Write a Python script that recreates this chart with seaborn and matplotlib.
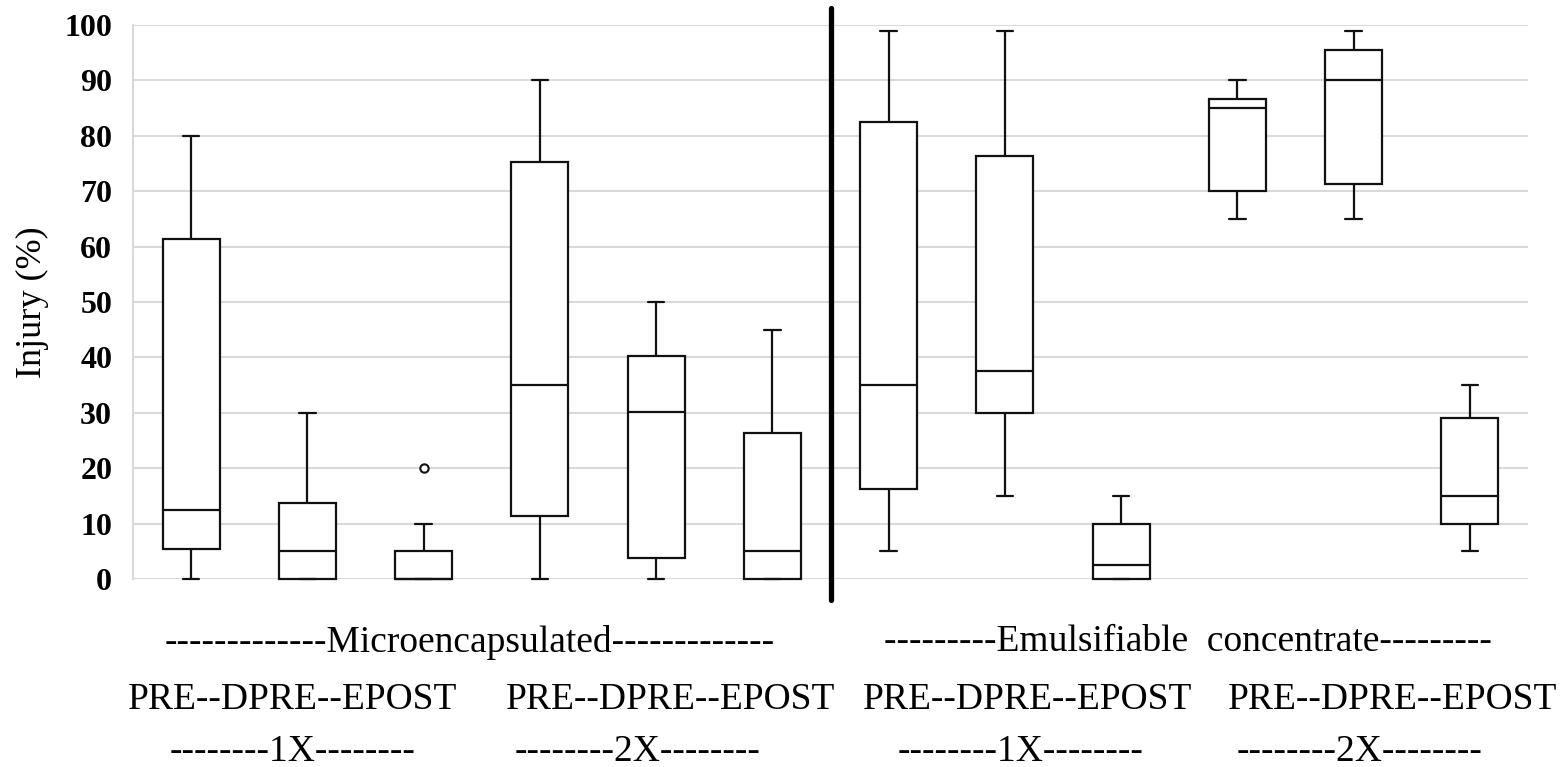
import matplotlib
matplotlib.use("Agg")
import matplotlib.pyplot as plt
import seaborn as sns
import pandas as pd
from matplotlib.ticker import MultipleLocator

# ---- data ----
groups = ["ME-1X-PRE", "ME-1X-DPRE", "ME-1X-EPOST",
          "ME-2X-PRE", "ME-2X-DPRE", "ME-2X-EPOST",
          "EC-1X-PRE", "EC-1X-DPRE", "EC-1X-EPOST",
          "EC-2X-PRE", "EC-2X-DPRE", "EC-2X-EPOST"]
whisker_low  = [0,    0,    0,  0,    0,    0,    5,    15,   0,   65,   65,   5]
q1           = [5.5,  0,    0,  11.3, 3.8,  0,    16.2, 30,   0,   70,   71.3, 10]
median       = [12.5, 5,    0,  35,   30.2, 5,    35,   37.5, 2.5, 85,   90,   15]
q3           = [61.3, 13.8, 5,  75.2, 40.2, 26.3, 82.5, 76.4, 10,  86.6, 95.4, 29]
whisker_high = [80,   30,   10, 90,   50,   45,   99,   99,   15,  90,   99,   35]
outliers     = [None, None, 20, None, None, None, None, None, None, None, None, None]

yticks = [0, 10, 20, 30, 40, 50, 60, 70, 80, 90, 100]

# long-form data whose box statistics reproduce the summaries above
rows = []
for g, lo, a, m, b, hi, out in zip(groups, whisker_low, q1, median, q3, whisker_high, outliers):
    vals = [lo, a, a, m, m, b, b, hi, out if out is not None else hi]
    rows += [(g, v) for v in vals]
df = pd.DataFrame(rows, columns=["group", "injury"])

# ---- figure ----
sns.set_theme(style="white")
plt.rcParams["font.family"] = ["Liberation Serif", "DejaVu Serif"]
plt.rcParams["text.color"] = "black"
plt.rcParams["axes.labelcolor"] = "black"
plt.rcParams["ytick.labelcolor"] = "black"

fig = plt.figure(figsize=(15.66, 7.67), dpi=100)
W, H = 1566, 767
ax = fig.add_axes([133 / W, 1 - 579 / H, (1528 - 133) / W, (579 - 25) / H])

sns.boxplot(data=df, x="group", y="injury", order=groups, ax=ax,
            color="white", linecolor="#111111", linewidth=1.6, width=0.49,
            whis=1.5, capwidths=0.14,
            flierprops=dict(marker="o", markersize=6, markerfacecolor="white",
                            markeredgecolor="#111111", markeredgewidth=1.5))

ax.set_xlim(-0.5, len(groups) - 0.5)
ax.set_ylim(0, 100)
ax.set_yticks(yticks)
ax.yaxis.set_minor_locator(MultipleLocator(2))
ax.grid(axis="y", which="major", color="#d9d9d9", linewidth=1.5)
ax.set_axisbelow(True)
ax.set_xticks([])
ax.set_xlabel("")
ax.set_ylabel("Injury (%)", fontsize=26, labelpad=11, color="black")

for s in ["top", "right", "bottom"]:
    ax.spines[s].set_visible(False)
ax.spines["left"].set_color("#d9d9d9")
ax.spines["left"].set_linewidth(1.5)
ax.tick_params(axis="y", which="major", direction="out", length=7, width=1.3,
               color="#d9d9d9", pad=8, labelsize=23, labelcolor="black")
ax.tick_params(axis="y", which="minor", direction="out", length=4, width=1.0,
               color="#d9d9d9")
for lab in ax.get_yticklabels():
    lab.set_fontweight("bold")

for art in ax.lines + ax.patches:
    art.set_clip_on(False)

# thick separator between formulations
ax.axvline(5.5, ymin=-0.038, ymax=1.031, color="black", linewidth=3.8, clip_on=False)

# ---- group labels below the axis ----
fs = 27
def ftext(px, py, s):
    fig.text(px / W, 1 - py / H, s, ha="center", va="center", fontsize=fs, color="black")

ftext(470, 642, "-------------Microencapsulated-------------")
ftext(1188, 642, "---------Emulsifiable  concentrate---------")
for px in [293, 671, 1028, 1393]:
    ftext(px, 700, "PRE--DPRE--EPOST")
ftext(293, 752, "--------1X--------")
ftext(638, 752, "--------2X--------")
ftext(1021, 752, "--------1X--------")
ftext(1360, 752, "--------2X--------")

fig.savefig("out.png", dpi=100, facecolor="white")
